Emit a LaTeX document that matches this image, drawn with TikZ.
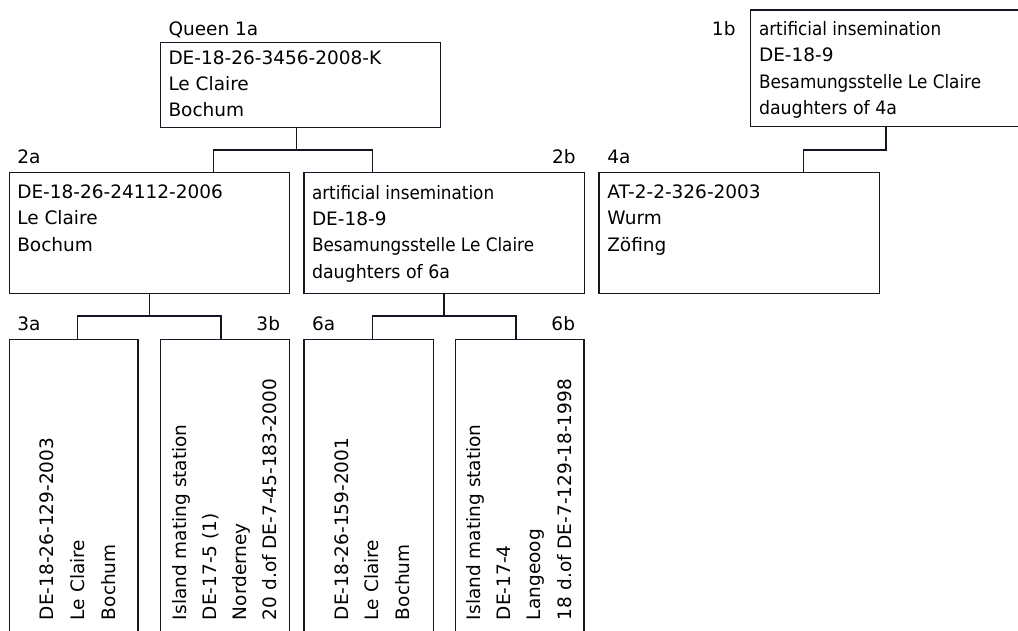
\documentclass[tikz,border=0pt]{standalone}
\usepackage{fontspec}
\setmainfont{DejaVu Sans}
\definecolor{ink}{RGB}{22,22,34}
\newcommand{\narrow}[2]{\scalebox{#1}[1]{#2}}
\begin{document}
\begin{tikzpicture}[x=1pt,y=-1pt,
  box/.style={draw=ink, line width=1.3pt, rectangle, inner sep=0pt, outer sep=0pt, anchor=north west},
  txt/.style={inner sep=0pt, outer sep=0pt, anchor=base west, text=black, font=\fontsize{18.5}{22}\selectfont},
  lbl/.style={txt},
  rlbl/.style={txt, anchor=base east},
  vtxt/.style={txt, rotate=90},
  link/.style={draw=ink, line width=1.3pt}]
\useasboundingbox (0,0) rectangle (1018,630);
\clip (0,0) rectangle (1018,630);
% Queen 1a
\node[box, minimum width=280.5pt, minimum height=84.6pt] (q) at (160.3,42.7) {};
\node[lbl] (qL) at (168.5,35) {Queen 1a};
\node[txt] (q1) at (168.5,64.2) {DE-18-26-3456-2008-K};
\node[txt] (q2) at (168.5,90.4) {Le Claire};
\node[txt] (q3) at (168.5,116.6) {Bochum};
% 2a
\node[box, minimum width=280pt, minimum height=121.4pt] (a2) at (9.3,172.3) {};
\node[lbl] (a2L) at (17.3,163.3) {2a};
\node[txt] (a21) at (17.3,198.4) {DE-18-26-24112-2006};
\node[txt] (a22) at (17.3,224.7) {Le Claire};
\node[txt] (a23) at (17.3,251) {Bochum};
% 2b
\node[box, minimum width=280.3pt, minimum height=121.4pt] (b2) at (304,172.3) {};
\node[rlbl] (b2L) at (575.7,163.3) {2b};
\node[txt] (b21) at (312,199) {\narrow{0.91}{artificial insemination}};
\node[txt] (b22) at (312,225.4) {DE-18-9};
\node[txt] (b23) at (312,251.7) {\narrow{0.91}{Besamungsstelle Le Claire}};
\node[txt] (b24) at (312,278) {\narrow{0.94}{daughters of 6a}};
% 4a
\node[box, minimum width=280.3pt, minimum height=121.4pt] (a4) at (599,172.3) {};
\node[lbl] (a4L) at (607.3,163.3) {4a};
\node[txt] (a41) at (607.3,198.4) {AT-2-2-326-2003};
\node[txt] (a42) at (607.3,224.7) {Wurm};
\node[txt] (a43) at (607.3,251) {Zöfing};
% 1b
\node[box, minimum width=290pt, minimum height=116.7pt] (b1) at (750.3,10) {};
\node[rlbl] (b1L) at (735.5,35) {1b};
\node[txt] (b11) at (759,35) {\narrow{0.91}{artificial insemination}};
\node[txt] (b12) at (759,61.6) {DE-18-9};
\node[txt] (b13) at (759,88) {\narrow{0.91}{Besamungsstelle Le Claire}};
\node[txt] (b14) at (759,114.6) {\narrow{0.94}{daughters of 4a}};
% bottom row
\node[box, minimum width=128.7pt, minimum height=300pt] (a3) at (9.3,339.3) {};
\node[box, minimum width=128.6pt, minimum height=300pt] (b3) at (160.7,339.3) {};
\node[box, minimum width=129.3pt, minimum height=300pt] (a6) at (304,339.3) {};
\node[box, minimum width=128.3pt, minimum height=300pt] (b6) at (455.7,339.3) {};
\node[lbl] (a3L) at (17.3,330) {3a};
\node[rlbl] (b3L) at (280,330) {3b};
\node[lbl] (a6L) at (312,330) {6a};
\node[rlbl] (b6L) at (575,330) {6b};
\node[vtxt] (a31) at (53.3,620) {DE-18-26-129-2003};
\node[vtxt] (a32) at (84,620) {Le Claire};
\node[vtxt] (a33) at (115,620) {Bochum};
\node[vtxt] (b31) at (186,620) {Island mating station};
\node[vtxt] (b32) at (216.7,620) {DE-17-5 (1)};
\node[vtxt] (b33) at (246.7,620) {Norderney};
\node[vtxt] (b34) at (276.7,620) {20 d.of DE-7-45-183-2000};
\node[vtxt] (a61) at (348.3,620) {DE-18-26-159-2001};
\node[vtxt] (a62) at (378.3,620) {Le Claire};
\node[vtxt] (a63) at (409,620) {Bochum};
\node[vtxt] (b61) at (480,620) {Island mating station};
\node[vtxt] (b62) at (510.7,620) {DE-17-4};
\node[vtxt] (b63) at (540.7,620) {Langeoog};
\node[vtxt] (b64) at (571,620) {18 d.of DE-7-129-18-1998};
% junction coordinates
\coordinate (j1) at (296.7,150);
\coordinate (ja2) at (213.3,150);
\coordinate (jb2) at (372.3,150);
\coordinate (j2) at (149.3,316);
\coordinate (ja3) at (77.7,316);
\coordinate (jb3) at (221,316);
\coordinate (j3) at (444,316);
\coordinate (ja6) at (372.7,316);
\coordinate (jb6) at (516,316);
\coordinate (j4) at (886,150);
\coordinate (ja4) at (803.3,150);
% connectors
\draw[link] (q.south -| j1) -- (j1);
\draw[link] (a2.north -| ja2) -- (ja2) -- (jb2) -- (b2.north -| jb2);
\draw[link] (a2.south -| j2) -- (j2);
\draw[link] (a3.north -| ja3) -- (ja3) -- (jb3) -- (b3.north -| jb3);
\draw[link] (b2.south -| j3) -- (j3);
\draw[link] (a6.north -| ja6) -- (ja6) -- (jb6) -- (b6.north -| jb6);
\draw[link] (b1.south -| j4) -- (j4) -- (ja4) -- (a4.north -| ja4);
\end{tikzpicture}
\end{document}
